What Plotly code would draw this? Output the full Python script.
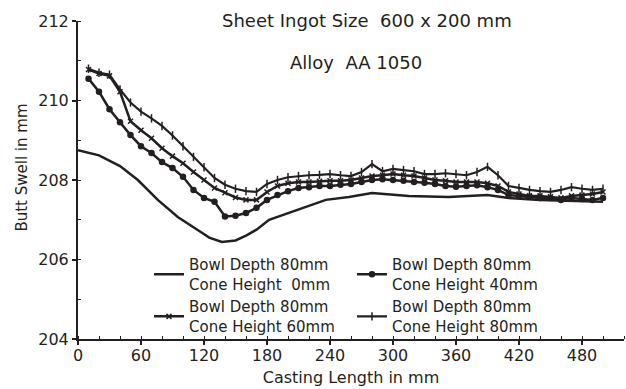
import plotly.graph_objects as go

# ---- data ----
x_cone0 = [0, 20, 40, 57, 76, 95, 114, 125, 137, 150, 160, 170, 182, 204, 236, 258, 280, 315, 353, 390, 410, 440, 470, 500]
y_cone0 = [208.75, 208.62, 208.35, 208.0, 207.5, 207.07, 206.74, 206.55, 206.44, 206.48, 206.6, 206.75, 207.0,
           207.2, 207.5, 207.57, 207.67, 207.6, 207.57, 207.62, 207.55, 207.5, 207.48, 207.45]

x_marked = [10, 20, 30, 40, 50, 60, 70, 80, 90, 100, 110, 120, 130, 140, 150, 160, 170, 180, 190, 200,
            210, 220, 230, 240, 250, 260, 270, 280, 290, 300, 310, 320, 330, 340, 350, 360, 370, 380, 390, 400,
            410, 420, 430, 440, 450, 460, 470, 480, 490, 500]

y_cone40 = [210.55, 210.22, 209.78, 209.45, 209.13, 208.85, 208.68, 208.45, 208.3, 208.08,
            207.75, 207.55, 207.45, 207.08, 207.1, 207.17, 207.3, 207.5, 207.62, 207.72,
            207.8, 207.82, 207.85, 207.85, 207.88, 207.9, 207.95, 208.0, 208.02, 208.0,
            207.98, 207.95, 207.93, 207.9, 207.85, 207.83, 207.85, 207.87, 207.82, 207.75,
            207.62, 207.6, 207.58, 207.55, 207.55, 207.5, 207.55, 207.52, 207.5, 207.55]

y_cone60 = [210.78, 210.68, 210.62, 210.22, 209.48, 209.25, 209.05, 208.8, 208.6, 208.42,
            208.2, 208.0, 207.8, 207.68, 207.56, 207.5, 207.5, 207.7, 207.85, 207.92,
            207.95, 207.95, 207.97, 207.98, 207.98, 208.0, 208.05, 208.1, 208.12, 208.15,
            208.12, 208.1, 208.05, 208.0, 207.98, 207.95, 207.95, 207.95, 207.92, 207.85,
            207.7, 207.65, 207.6, 207.6, 207.58, 207.55, 207.6, 207.62, 207.65, 207.7]

y_cone80 = [210.8, 210.7, 210.65, 210.28, 209.95, 209.72, 209.55, 209.36, 209.12, 208.85,
            208.58, 208.32, 208.05, 207.88, 207.78, 207.72, 207.7, 207.9, 208.0, 208.07,
            208.1, 208.12, 208.13, 208.15, 208.12, 208.1, 208.2, 208.4, 208.22, 208.28,
            208.25, 208.22, 208.15, 208.15, 208.17, 208.15, 208.12, 208.2, 208.33, 208.12,
            207.85, 207.8, 207.75, 207.72, 207.7, 207.75, 207.82, 207.78, 207.75, 207.78]

names = ["Bowl Depth 80mm<br>Cone Height\u00a0\u00a00mm",
         "Bowl Depth 80mm<br>Cone Height 40mm",
         "Bowl Depth 80mm<br>Cone Height 60mm",
         "Bowl Depth 80mm<br>Cone Height 80mm"]

x_ticks = [0, 60, 120, 180, 240, 300, 360, 420, 480]
y_ticks = [204, 206, 208, 210, 212]

INK = "#231f20"
FONT = "DejaVu Sans"

fig = go.Figure()
fig.add_trace(go.Scatter(x=x_cone0, y=y_cone0, mode="lines", name=names[0],
                         line=dict(color=INK, width=2.5)))
fig.add_trace(go.Scatter(x=x_marked, y=y_cone40, mode="lines+markers", name=names[1],
                         line=dict(color=INK, width=2.5),
                         marker=dict(symbol="circle", size=6.5, color=INK)))
fig.add_trace(go.Scatter(x=x_marked, y=y_cone60, mode="lines+markers", name=names[2],
                         line=dict(color=INK, width=2.5),
                         marker=dict(symbol="x-thin-open", size=5, color=INK, line=dict(width=1.5, color=INK))))
fig.add_trace(go.Scatter(x=x_marked, y=y_cone80, mode="lines+markers", name=names[3],
                         line=dict(color=INK, width=2.2),
                         marker=dict(symbol="line-ns-open", size=6, color=INK, line=dict(width=1.5, color=INK))))

axis_common = dict(showgrid=False, zeroline=False, showline=True, linecolor=INK, linewidth=2,
                   tickcolor=INK, tickwidth=1.5, ticks="outside", ticklen=4,
                   tickfont=dict(family=FONT, size=16, color=INK))

fig.update_layout(
    width=626, height=389,
    margin=dict(l=78, r=2, t=21, b=50),
    paper_bgcolor="white", plot_bgcolor="white",
    font=dict(family=FONT, color=INK),
    xaxis=dict(range=[0, 520], tickvals=x_ticks, ticktext=[str(v) for v in x_ticks],
               minor=dict(dtick=20, tick0=0, ticks="inside", ticklen=3, tickcolor=INK, tickwidth=1.2),
               ticklabelstandoff=-3,
               title=dict(text="Casting Length in mm", font=dict(family=FONT, size=16, color=INK), standoff=8),
               **axis_common),
    yaxis=dict(range=[204, 212], tickvals=y_ticks, ticktext=[str(v) for v in y_ticks],
               minor=dict(dtick=1, tick0=204, ticks="inside", ticklen=3, tickcolor=INK, tickwidth=1.2),
               **axis_common),
    xaxis2=dict(overlaying="x", anchor="y", side="bottom", range=[0, 520], tickvals=x_ticks,
                showticklabels=False, ticks="inside", ticklen=4, tickcolor=INK, tickwidth=1.5,
                showgrid=False, zeroline=False, showline=False),
    yaxis2=dict(overlaying="y", anchor="x", side="left", range=[204, 212], tickvals=y_ticks,
                showticklabels=False, ticks="inside", ticklen=4, tickcolor=INK, tickwidth=1.5,
                showgrid=False, zeroline=False, showline=False),
    showlegend=True,
    legend=dict(orientation="h", x=0.13, y=0.285, xanchor="left", yanchor="top",
                entrywidth=158, entrywidthmode="pixels", itemwidth=30,
                font=dict(family=FONT, size=15, color=INK), bgcolor="rgba(0,0,0,0)",
                tracegroupgap=0, traceorder="normal"),
    annotations=[
        dict(text="Sheet Ingot Size\u00a0\u00a0600 x 200 mm", xref="paper", yref="paper",
             x=0.53, y=1.003, xanchor="center", yanchor="middle", showarrow=False,
             font=dict(family=FONT, size=18, color=INK)),
        dict(text="Alloy\u00a0\u00a0AA\u00a01050", xref="paper", yref="paper",
             x=0.51, y=0.868, xanchor="center", yanchor="middle", showarrow=False,
             font=dict(family=FONT, size=18, color=INK)),
        dict(text="Butt Swell in mm", xref="paper", yref="paper",
             x=-0.102, y=0.54, xanchor="center", yanchor="middle", showarrow=False, textangle=-90,
             font=dict(family=FONT, size=15, color=INK)),
    ],
)

fig.write_html("out.html")
